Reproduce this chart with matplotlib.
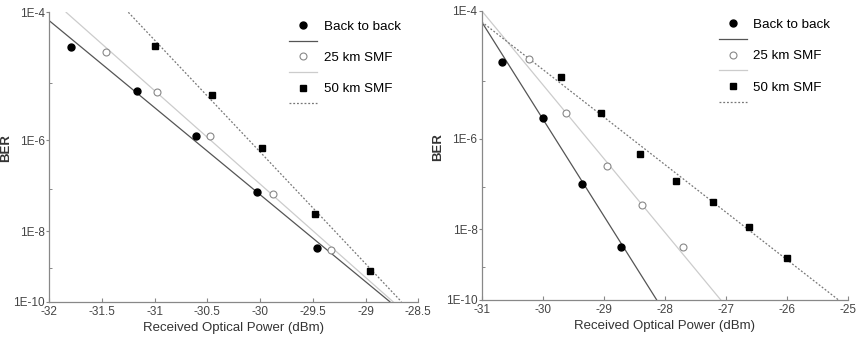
import matplotlib
matplotlib.use("Agg")
import matplotlib.pyplot as plt
import numpy as np

plt.rcParams['font.family'] = ['Liberation Sans', 'DejaVu Sans']

# measured points, left panel
left_b2b_x = [-31.79, -31.17, -30.61, -30.03, -29.46]
left_b2b_ber = [3.4e-5, 7.5e-6, 1.23e-6, 8.7e-8, 3.6e-9]
left_25_x = [-31.46, -30.98, -30.48, -29.875, -29.33]
left_25_ber = [2.95e-5, 7.2e-6, 1.19e-6, 7.6e-8, 3.2e-9]
left_50_x = [-31.0, -30.46, -29.98, -29.48, -28.96]
left_50_ber = [3.5e-5, 6.4e-6, 7.0e-7, 2.6e-8, 8.4e-10]

# fitted lines, left panel (end points)
left_b2b_fit_x = [-32.0, -28.77]
left_b2b_fit_ber = [7.8e-5, 1e-10]
left_25_fit_x = [-31.84, -28.74]
left_25_fit_ber = [1e-4, 1e-10]
left_50_fit_x = [-31.25, -28.66]
left_50_fit_ber = [1e-4, 1e-10]

# measured points, right panel
right_b2b_x = [-30.67, -29.99, -29.355, -28.716]
right_b2b_ber = [1.95e-5, 2.4e-6, 1.19e-7, 3.5e-9]
right_25_x = [-30.23, -29.61, -28.945, -28.377, -27.705]
right_25_ber = [2.2e-5, 2.9e-6, 2.85e-7, 3.9e-8, 3.5e-9]
right_50_x = [-29.70, -29.04, -28.40, -27.81, -27.21, -26.61, -25.99]
right_50_ber = [1.16e-5, 2.9e-6, 5.0e-7, 1.38e-7, 4.7e-8, 1.18e-8, 1.8e-9]

# fitted lines, right panel (end points)
right_b2b_fit_x = [-31.0, -28.13]
right_b2b_fit_ber = [7.2e-5, 1e-10]
right_25_fit_x = [-31.0, -27.08]
right_25_fit_ber = [1e-4, 1e-10]
right_50_fit_x = [-31.0, -25.15]
right_50_fit_ber = [7.2e-5, 1e-10]

labels = ['Back to back', '25 km SMF', '50 km SMF']
y_ticks = [1e-4, 1e-6, 1e-8, 1e-10]
y_ticklabels = ['1E-4', '1E-6', '1E-8', '1E-10']
y_minor = [1e-5, 1e-7, 1e-9]


# BER axis: -log10(-log10(BER))
def fwd(b):
    b = np.clip(np.asarray(b, dtype=float), 1e-300, 0.999999)
    return -np.log10(-np.log10(b))


def inv(t):
    return 10 ** (-10 ** (-np.asarray(t, dtype=float)))


def draw_panel(ax, data, fits, xlim, xticks):
    ax.set_yscale('function', functions=(fwd, inv))
    styles = [
        dict(marker='o', color='black', mfc='black', mec='black', ms=5),
        dict(marker='o', color='#888888', mfc='white', mec='#888888', ms=5, mew=0.8),
        dict(marker='s', color='black', mfc='black', mec='black', ms=5),
    ]
    line_styles = [
        dict(color='#555555', lw=0.9, ls='-'),
        dict(color='#cccccc', lw=0.9, ls='-'),
        dict(color='#777777', lw=0.9, ls=(0, (1.5, 1.5))),
    ]
    handles = []
    for (x, b), (fx, fb), ms, ls, lab in zip(data, fits, styles, line_styles, labels):
        ln, = ax.plot(fx, fb, **ls)
        pt, = ax.plot(x, b, ls='none', zorder=3, **ms)
        handles += [pt, ln]
    ax.set_xlim(*xlim)
    ax.set_ylim(1e-10, 1e-4)
    ax.set_xticks(xticks)
    ax.set_xticklabels([('%g' % v) for v in xticks])
    ax.set_yticks(y_ticks)
    ax.set_yticklabels(y_ticklabels)
    ax.set_yticks(y_minor, minor=True)
    ax.xaxis.set_minor_locator(matplotlib.ticker.NullLocator())
    for s in ['top', 'right']:
        ax.spines[s].set_visible(False)
    for s in ['left', 'bottom']:
        ax.spines[s].set_color('#888888')
        ax.spines[s].set_linewidth(0.9)
    ax.tick_params(axis='x', direction='in', length=3, width=0.8, color='#888888',
                   labelsize=8.5, labelcolor='#444444', pad=3)
    ax.tick_params(axis='y', direction='out', length=2, width=0.8, color='#888888',
                   labelsize=8.5, labelcolor='#444444', pad=1)
    ax.tick_params(axis='y', which='minor', direction='in', length=2, width=0.7,
                   color='#888888')
    ax.set_xlabel('Received Optical Power (dBm)', fontsize=9.5, color='#333333', labelpad=3)
    ax.set_ylabel('BER', fontsize=9.5, color='#333333', fontweight='bold')
    ax.yaxis.set_label_coords(-0.102, 0.53)
    leg_labels = [labels[0], '', labels[1], '', labels[2], '']
    ax.legend(handles, leg_labels, frameon=False, fontsize=9.6, loc='upper right',
              bbox_to_anchor=(0.975, 1.0), handlelength=2.1, labelspacing=0.25,
              handletextpad=0.5, borderaxespad=0.2)


fig = plt.figure(figsize=(8.57, 3.4), dpi=100)
ax1 = fig.add_axes([0.0575, 0.1126, 0.4306, 0.8512])
ax2 = fig.add_axes([0.562, 0.118, 0.427, 0.8505])

draw_panel(ax1,
           [(left_b2b_x, left_b2b_ber), (left_25_x, left_25_ber), (left_50_x, left_50_ber)],
           [(left_b2b_fit_x, left_b2b_fit_ber), (left_25_fit_x, left_25_fit_ber),
            (left_50_fit_x, left_50_fit_ber)],
           (-32, -28.5), [-32, -31.5, -31, -30.5, -30, -29.5, -29, -28.5])
draw_panel(ax2,
           [(right_b2b_x, right_b2b_ber), (right_25_x, right_25_ber), (right_50_x, right_50_ber)],
           [(right_b2b_fit_x, right_b2b_fit_ber), (right_25_fit_x, right_25_fit_ber),
            (right_50_fit_x, right_50_fit_ber)],
           (-31, -25), [-31, -30, -29, -28, -27, -26, -25])

fig.savefig('out.png', dpi=100)
